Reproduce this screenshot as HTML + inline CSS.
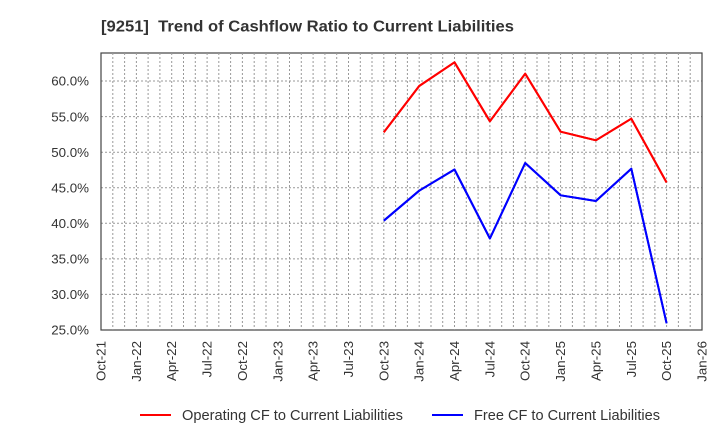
<!DOCTYPE html>
<html><head><meta charset="utf-8"><style>
html,body{margin:0;padding:0;background:#fff;}
svg{display:block;font-family:"Liberation Sans",Arial,sans-serif;}
</style></head><body>
<svg width="720" height="440" viewBox="0 0 720 440" xmlns="http://www.w3.org/2000/svg">
<rect width="720" height="440" fill="#fff"/>
<text x="101" y="31.5" font-size="16" font-weight="bold" fill="#333" textLength="413" lengthAdjust="spacingAndGlyphs" style="white-space:pre">[9251]  Trend of Cashflow Ratio to Current Liabilities</text>
<g stroke="#999" stroke-width="1" stroke-dasharray="2,2" fill="none">
<path d="M101 294.4H702M101 258.9H702M101 223.3H702M101 187.7H702M101 152.2H702M101 116.6H702M101 81.0H702"/>
<path id="vg" d=""/>
</g>
<g stroke="#999" stroke-width="1" stroke-dasharray="2,2" fill="none" id="vlines"></g>
<rect x="101" y="53" width="601" height="277" fill="none" stroke="#444" stroke-width="1.2"/>
<g font-size="13.33" fill="#333" text-anchor="end">
<text x="89" y="334.7">25.0%</text>
<text x="89" y="299.1">30.0%</text>
<text x="89" y="263.6">35.0%</text>
<text x="89" y="228.0">40.0%</text>
<text x="89" y="192.4">45.0%</text>
<text x="89" y="156.9">50.0%</text>
<text x="89" y="121.3">55.0%</text>
<text x="89" y="85.7">60.0%</text>
</g>
<g font-size="13.33" fill="#333" text-anchor="end" id="xl"></g>
<polyline fill="none" stroke="#ff0000" stroke-width="2" stroke-linejoin="round" points="383.8,132.3 419.2,86 454.5,62.3 489.9,121.3 525.2,73.7 560.6,131.7 595.9,140.3 631.3,118.7 666.6,182.5"/>
<polyline fill="none" stroke="#0000ff" stroke-width="2" stroke-linejoin="round" points="383.8,220.7 419.2,190.7 454.5,169.5 489.9,238.5 525.2,163 560.6,195.3 595.9,201 631.3,168.7 666.6,323.3"/>
<line x1="140" y1="415" x2="171" y2="415" stroke="#ff0000" stroke-width="2"/>
<text x="182" y="420" font-size="14.5" fill="#333" textLength="221" lengthAdjust="spacingAndGlyphs">Operating CF to Current Liabilities</text>
<line x1="432" y1="415" x2="463" y2="415" stroke="#0000ff" stroke-width="2"/>
<text x="474" y="420" font-size="14.5" fill="#333" textLength="186" lengthAdjust="spacingAndGlyphs">Free CF to Current Liabilities</text>
<g stroke="#999" stroke-width="1" stroke-dasharray="2,2" fill="none">
<path d="M112.8 53V330M124.6 53V330M136.4 53V330M148.1 53V330M159.9 53V330M171.7 53V330M183.5 53V330M195.3 53V330M207.1 53V330M218.8 53V330M230.6 53V330M242.4 53V330M254.2 53V330M266.0 53V330M277.8 53V330M289.5 53V330M301.3 53V330M313.1 53V330M324.9 53V330M336.7 53V330M348.5 53V330M360.3 53V330M372.0 53V330M383.8 53V330M395.6 53V330M407.4 53V330M419.2 53V330M431.0 53V330M442.7 53V330M454.5 53V330M466.3 53V330M478.1 53V330M489.9 53V330M501.7 53V330M513.4 53V330M525.2 53V330M537.0 53V330M548.8 53V330M560.6 53V330M572.4 53V330M584.2 53V330M595.9 53V330M607.7 53V330M619.5 53V330M631.3 53V330M643.1 53V330M654.9 53V330M666.6 53V330M678.4 53V330M690.2 53V330"/>
</g>
<polyline fill="none" stroke="#ff0000" stroke-width="2" stroke-linejoin="round" points="383.8,132.3 419.2,86 454.5,62.3 489.9,121.3 525.2,73.7 560.6,131.7 595.9,140.3 631.3,118.7 666.6,182.5"/>
<polyline fill="none" stroke="#0000ff" stroke-width="2" stroke-linejoin="round" points="383.8,220.7 419.2,190.7 454.5,169.5 489.9,238.5 525.2,163 560.6,195.3 595.9,201 631.3,168.7 666.6,323.3"/>
<g font-size="13.33" fill="#333" text-anchor="end">
<text transform="translate(105.5,341) rotate(-90)">Oct-21</text>
<text transform="translate(140.9,341) rotate(-90)">Jan-22</text>
<text transform="translate(176.2,341) rotate(-90)">Apr-22</text>
<text transform="translate(211.6,341) rotate(-90)">Jul-22</text>
<text transform="translate(246.9,341) rotate(-90)">Oct-22</text>
<text transform="translate(282.3,341) rotate(-90)">Jan-23</text>
<text transform="translate(317.6,341) rotate(-90)">Apr-23</text>
<text transform="translate(353.0,341) rotate(-90)">Jul-23</text>
<text transform="translate(388.3,341) rotate(-90)">Oct-23</text>
<text transform="translate(423.7,341) rotate(-90)">Jan-24</text>
<text transform="translate(459.0,341) rotate(-90)">Apr-24</text>
<text transform="translate(494.4,341) rotate(-90)">Jul-24</text>
<text transform="translate(529.7,341) rotate(-90)">Oct-24</text>
<text transform="translate(565.1,341) rotate(-90)">Jan-25</text>
<text transform="translate(600.4,341) rotate(-90)">Apr-25</text>
<text transform="translate(635.8,341) rotate(-90)">Jul-25</text>
<text transform="translate(671.1,341) rotate(-90)">Oct-25</text>
<text transform="translate(706.5,341) rotate(-90)">Jan-26</text>
</g>
</svg>
</body></html>
